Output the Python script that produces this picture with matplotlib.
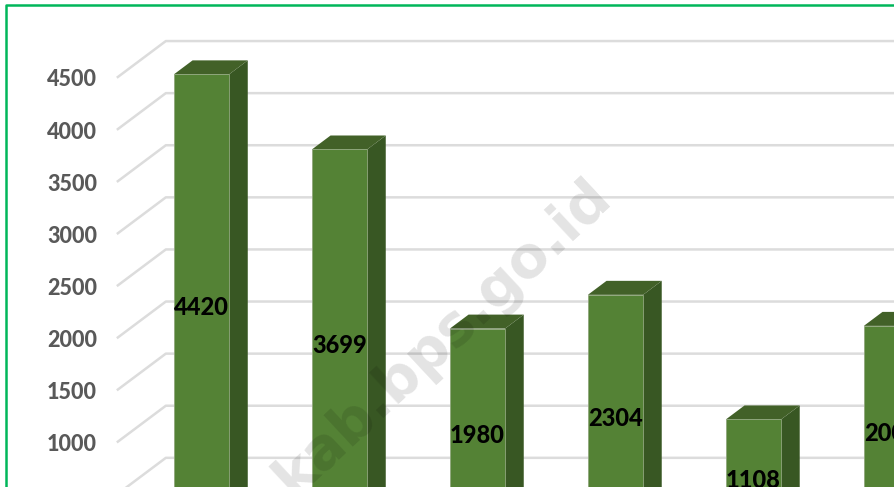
import matplotlib.pyplot as plt
import numpy as np

plt.rcParams['font.family'] = ['Lato', 'DejaVu Sans']

# values, last one is cut off at the edge
values = [4420, 3699, 1980, 2304, 1108, 2006]
ticks = np.arange(0, 5000, 500)
tick_labels = ['', '', '1000', '1500', '2000', '2500', '3000', '3500', '4000', '4500']

front = '#548235'
top = '#426128'
side = '#385723'
grid = '#dcdcdc'

# depth of the fake 3d floor, in data units
dx = 48 / 138
dy = 345
near = 11 / 36
far = 25 / 36
w = 0.4

fig = plt.figure(figsize=(8.95, 4.87), dpi=100)
ax = fig.add_axes([0, 0, 1, 1])
ax.set_xlim(-1.354, 5.132)
ax.set_ylim(565, 5239)
ax.axis('off')

# gridlines: left wall and back wall
for t, lab in zip(ticks, tick_labels):
    ax.plot([-0.5, -0.5 + dx, 5.2], [t, t + dy, t + dy], color=grid, lw=1.8, zorder=1)
    if lab:
        ax.text(-0.651, t - 28, lab, ha='right', va='center', color='#595959',
                fontsize=15.5, fontweight='black', zorder=2)

# bars
for i, v in enumerate(values):
    x0 = i - w / 2 + near * dx
    x1 = x0 + w
    y0 = near * dy
    y1 = v + near * dy
    d = (far - near)
    ax.fill([x1, x1 + d * dx, x1 + d * dx, x1], [y0, y0 + d * dy, y1 + d * dy, y1],
            color=side, lw=0, zorder=3)
    ax.fill([x0, x1, x1 + d * dx, x0 + d * dx], [y1, y1, y1 + d * dy, y1 + d * dy],
            color=top, lw=0, zorder=3)
    ax.fill([x0, x1, x1, x0], [y0, y0, y1, y1], facecolor=front,
            edgecolor='#8fa67c', lw=0.6, zorder=4)
    ax.text((x0 + x1) / 2, v / 2 + near * dy - 32, str(v), ha='center', va='center',
            color='black', fontsize=17, fontweight='black', zorder=6, clip_on=True)

# watermark
ax.text(613 / 895, 1 - 200 / 487, 'kab.bps.go.id', transform=ax.transAxes, rotation=43,
        rotation_mode='anchor', ha='right', va='baseline', fontsize=41, fontweight='bold',
        family='DejaVu Sans', color='black', alpha=0.11, zorder=5)

# green frame round the chart
ax.plot([6.5 / 895, 6.5 / 895, 1.01], [-0.01, 1 - 4.5 / 487, 1 - 4.5 / 487],
        transform=ax.transAxes, color='#00b65a', lw=1.8, zorder=7)

fig.savefig('out.png', dpi=100)
